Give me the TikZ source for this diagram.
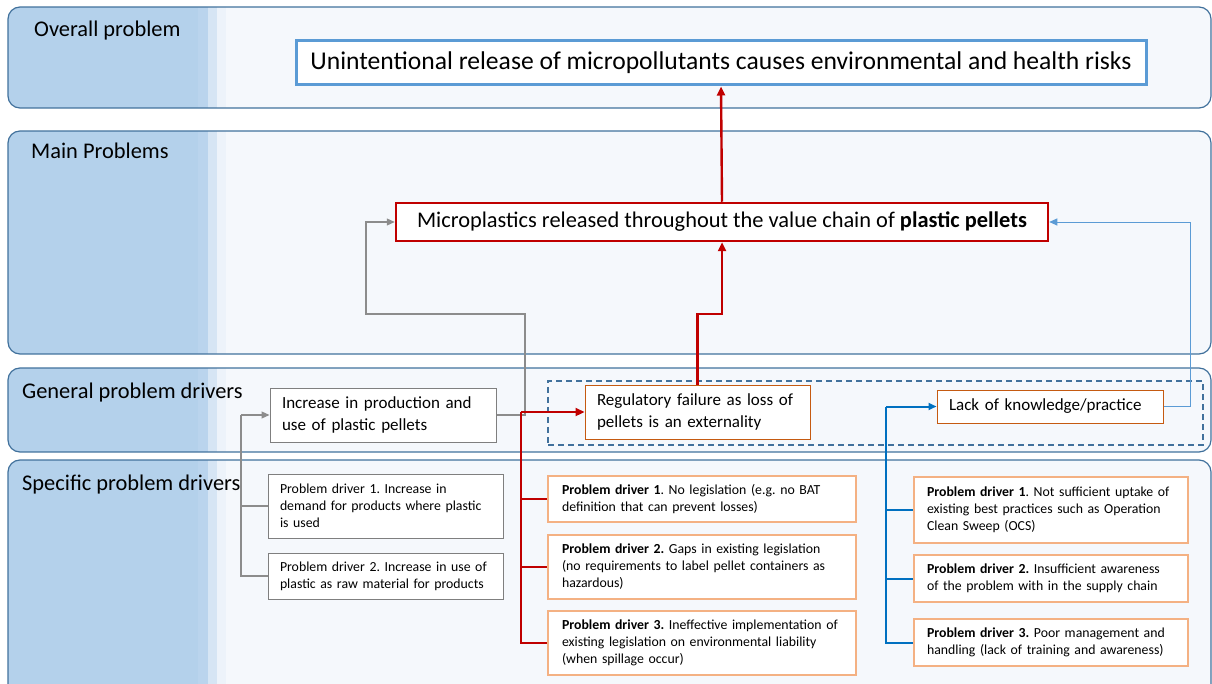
\documentclass[tikz,border=0pt]{standalone}
\usepackage{fontspec}
\setmainfont{Carlito}
\usepackage{tikz}
\usetikzlibrary{arrows.meta, positioning}
\usepackage{xcolor}
\definecolor{bandline}{HTML}{41719C}
\definecolor{bandlight}{HTML}{F5F8FC}
\definecolor{banddark}{HTML}{B4D1EB}
\definecolor{bandmid}{HTML}{BAD4ED}
\definecolor{bandpale}{HTML}{D6E5F4}
\definecolor{bandfaint}{HTML}{EDF3FA}
\definecolor{topblue}{HTML}{5B9BD5}
\definecolor{pelletred}{HTML}{C00000}
\definecolor{linegray}{HTML}{8C8C8C}
\definecolor{boxgray}{HTML}{7F7F7F}
\definecolor{darkorange}{HTML}{C55A11}
\definecolor{peach}{HTML}{F4B183}
\definecolor{knowblue}{HTML}{0070C0}
\frenchspacing

\begin{document}
\begin{tikzpicture}[
  x=1pt, y=-1pt,
  band/.style      = {draw=bandline, line width=1.2pt, rounded corners=12pt},
  bandlabel/.style = {anchor=west, inner sep=0pt, font=\fontsize{22.4}{26}\selectfont},
  topbox/.style    = {rectangle, draw=topblue, line width=3pt, fill=white,
                      minimum width=850pt, minimum height=44pt,
                      font=\fontsize{25.6}{29}\selectfont},
  mainbox/.style   = {rectangle, draw=pelletred, line width=2.5pt, fill=white,
                      minimum width=652pt, minimum height=38pt,
                      font=\fontsize{22.4}{26}\selectfont},
  genbox/.style    = {rectangle, draw=boxgray, line width=1pt, fill=white,
                      align=left, inner xsep=12pt,
                      font=\fontsize{17}{21.5}\selectfont},
  causebox/.style  = {genbox, draw=darkorange},
  graypd/.style    = {rectangle, draw=boxgray, line width=1pt, fill=white,
                      align=left, inner xsep=12pt, minimum width=235pt,
                      text width=211pt, font=\fontsize{13.8}{17}\selectfont},
  redpd/.style     = {graypd, draw=peach, line width=2pt, minimum width=308pt,
                      text width=280pt, inner xsep=14pt},
  bluepd/.style    = {redpd, minimum width=274pt, text width=248pt, inner xsep=13pt},
  frame/.style     = {rectangle, draw=bandline, line width=1.2pt,
                      dash pattern=on 6pt off 4pt},
  redarr/.style    = {-{Triangle[length=9pt, width=8pt]}, draw=pelletred, line width=2.4pt},
  redln/.style     = {draw=pelletred, line width=2.4pt},
  grayarr/.style   = {-{Triangle[length=8pt, width=7pt]}, draw=linegray, line width=1.2pt},
  grayln/.style    = {draw=linegray, line width=1.2pt},
  bluearr/.style   = {-{Triangle[length=8pt, width=7pt]}, draw=knowblue, line width=2pt},
  blueln/.style    = {draw=knowblue, line width=2pt},
  thinarr/.style   = {-{Triangle[length=8pt, width=7pt]}, draw=topblue, line width=0.9pt}
]

\useasboundingbox (0,0) rectangle (1212,684);
\clip (0,0) rectangle (1212,684);

% the four bands
\foreach \ya/\yb in {7/108, 131/354, 368/452, 460/704} {
  \begin{scope}
    \clip[rounded corners=12pt] (8,\ya) rectangle (1211,\yb);
    \fill[bandlight] (8,\ya) rectangle (1211,\yb);
    \fill[banddark]  (8,\ya) rectangle (198,\yb);
    \fill[bandmid]   (198,\ya) rectangle (208,\yb);
    \fill[bandpale]  (208,\ya) rectangle (217,\yb);
    \fill[bandfaint] (217,\ya) rectangle (226,\yb);
  \end{scope}
  \draw[band] (8,\ya) rectangle (1211,\yb);
}

\node[bandlabel] (lovr)  at (34,31)  {Overall problem};
\node[bandlabel] (lmain) at (31,151) {Main Problems};
\node[bandlabel] (lgen)  at (22,393) {General problem drivers};
\node[bandlabel] (lspec) at (22,485) {Specific problem drivers};

% problems
\node[topbox] (ttl) at (721,63)
  {Unintentional release of micropollutants causes environmental and health risks};
\node[mainbox] (micro) at (722,222)
  {Microplastics released throughout the value chain of \textbf{plastic pellets}};

% general drivers
\node[frame, minimum width=655pt, minimum height=64pt] (grp) at (875.5,413) {};
\node[genbox, minimum width=226pt, minimum height=54pt, text width=202pt] (inc) at (383,415)
  {Increase in production and\\ use of plastic pellets};
\node[causebox, minimum width=225pt, minimum height=54pt, text width=201pt] (reg) at (697.5,412)
  {Regulatory failure as loss of\\ pellets is an externality};
\node[causebox, minimum width=226pt, minimum height=33pt, text width=202pt] (lack) at (1050,406.5)
  {Lack of knowledge/practice};

% specific drivers
\node[graypd, minimum height=64pt] (gpd1) at (385.5,506)
  {Problem driver 1. Increase in\\ demand for products where plastic\\ is used};
\node[graypd, minimum height=46pt, below=14pt of gpd1] (gpd2)
  {Problem driver 2. Increase in use of\\ plastic as raw material for products};

\node[redpd, minimum height=46pt] (rpd1) at (702,499)
  {\textbf{Problem driver 1}. No legislation (e.g. no BAT\\ definition that can prevent losses)};
\node[redpd, minimum height=64pt, below=11pt of rpd1] (rpd2)
  {\textbf{Problem driver 2.} Gaps in existing legislation\\ (no requirements to label pellet containers as\\ hazardous)};
\node[redpd, minimum height=64pt, below=10pt of rpd2] (rpd3)
  {\textbf{Problem driver 3.} Ineffective implementation of\\ existing legislation on environmental liability\\ (when spillage occur)};

\node[bluepd, minimum height=66pt] (bpd1) at (1051,510)
  {\textbf{Problem driver 1}. Not sufficient uptake of\\ existing best practices such as Operation\\ Clean Sweep (OCS)};
\node[bluepd, minimum height=47pt, below=10pt of bpd1] (bpd2)
  {\textbf{Problem driver 2.} Insufficient awareness\\ of the problem with in the supply chain};
\node[bluepd, minimum height=47pt, below=15pt of bpd2] (bpd3)
  {\textbf{Problem driver 3.} Poor management and\\ handling (lack of training and awareness)};

% corner points of the elbow connectors
\coordinate (rk)   at (697.5,314);
\coordinate (gk1)  at (525,314);
\coordinate (gk2)  at (366,222);
\coordinate (lk)   at (1190,222);
\coordinate (gtop) at (241,415);
\coordinate (rtop) at (521,412);
\coordinate (btop) at (886,406.5);

% upward chain
\draw[redarr] (micro.north) -- (ttl.south);
\draw[redarr] (reg.north) -- (rk) -| (micro.south);
\draw[grayarr] (inc.east) -| (gk1) -| (gk2) -- (micro.west);
\draw[thinarr] (lack.east) -| (lk) -- (micro.east);

% specific -> general
\draw[grayarr] (gtop) -- (inc.west);
\draw[grayln] (gtop) |- (gpd2.west);
\draw[grayln] (gtop |- gpd1.west) -- (gpd1.west);

\draw[redarr] (rtop) -- (reg.west);
\draw[redln] (rtop) |- (rpd3.west);
\foreach \n in {rpd1, rpd2}
  \draw[redln] (rtop |- \n.west) -- (\n.west);

\draw[bluearr] (btop) -- (lack.west);
\draw[blueln] (btop) |- (bpd3.west);
\foreach \n in {bpd1, bpd2}
  \draw[blueln] (btop |- \n.west) -- (\n.west);

\end{tikzpicture}
\end{document}
